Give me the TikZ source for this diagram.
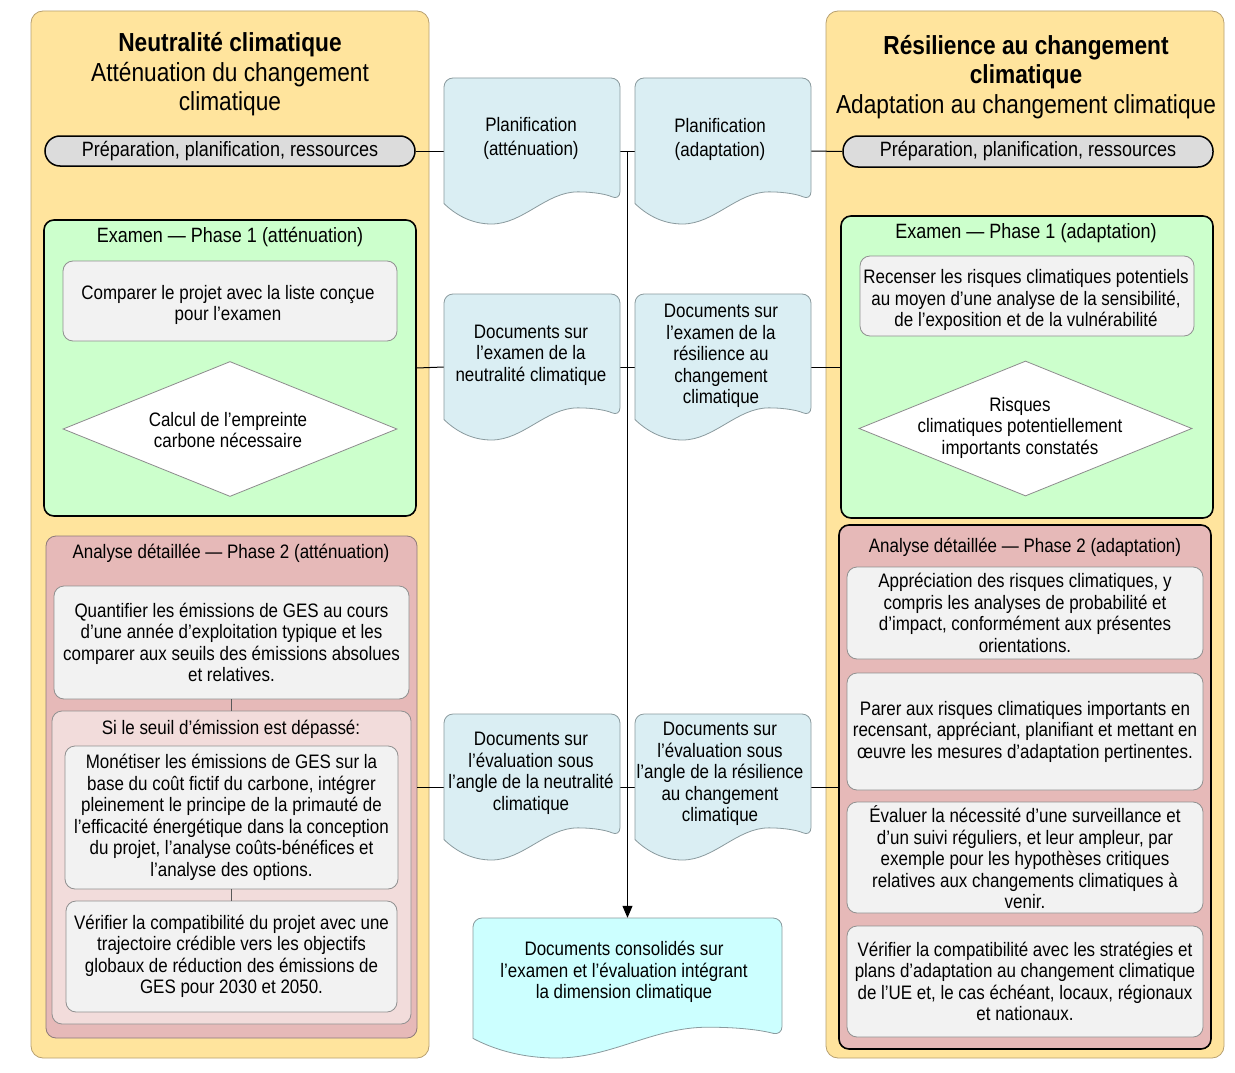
\documentclass[tikz,border=0pt]{standalone}
\usepackage{fontspec}
\setmainfont{Liberation Sans}[FakeStretch=0.87]
\usetikzlibrary{shapes.geometric,arrows.meta,calc}
\definecolor{panelfill}{HTML}{FFE49D}
\definecolor{panelborder}{HTML}{B8A070}
\definecolor{pillfill}{HTML}{DCDCDC}
\definecolor{greenfill}{HTML}{CCFFCC}
\definecolor{innerfill}{HTML}{F2F2F2}
\definecolor{innerborder}{HTML}{909090}
\definecolor{redfill}{HTML}{E6B9B8}
\definecolor{redborder}{HTML}{8E7A7A}
\definecolor{subfill}{HTML}{F2DCDB}
\definecolor{docfill}{HTML}{DAEEF3}
\definecolor{docborder}{HTML}{8A9A9E}
\definecolor{cyanfill}{HTML}{CCFFFF}
\definecolor{diamborder}{HTML}{8C8C8C}
\newcommand\myBody{\fontsize{19.5}{21.5}\selectfont}
\newcommand\myDoc{\fontsize{19.5}{24.5}\selectfont}
\newcommand\mySec{\fontsize{20.7}{23}\selectfont}
\newcommand\myTitle{\fontsize{26.1}{29.5}\selectfont}
\newcommand\docshape[5]{%
  \begin{scope}[shift={(#1pt,-#2pt)},x=#3pt,y=-#4pt]
  \draw[docline,fill=#5] (0,0.86) [rounded corners=9pt] -- (0,0) -- (1,0) -- (1,0.84) [sharp corners]
    .. controls (0.93,0.80) and (0.86,0.78) .. (0.76,0.78)
    .. controls (0.58,0.78) and (0.45,1.0) .. (0.27,1.0)
    .. controls (0.15,1.0) and (0.06,0.93) .. (0,0.86) -- cycle;
  \end{scope}}
\tikzset{
  panel/.style={draw=panelborder,fill=panelfill,rounded corners=12pt,line width=0.8pt,inner sep=0pt},
  pill/.style={draw=black,fill=pillfill,rounded corners=15pt,line width=1.5pt,inner sep=0pt,font=\mySec},
  greenbox/.style={draw=black,fill=greenfill,rounded corners=10pt,line width=1.6pt,inner sep=0pt},
  redbox/.style={fill=redfill,rounded corners=10pt,inner sep=0pt},
  subbox/.style={draw=innerborder,fill=subfill,rounded corners=10pt,line width=0.8pt,inner sep=0pt},
  innerbox/.style={draw=innerborder,fill=innerfill,rounded corners=10pt,line width=0.8pt,inner sep=0pt,align=center,font=\myBody},
  diam/.style={diamond,draw=diamborder,fill=white,line width=0.8pt,inner sep=0pt},
  docline/.style={draw=docborder,line width=0.8pt},
  docnode/.style={inner sep=0pt,draw=none},
  txt/.style={align=center,font=\myBody,inner sep=0pt},
  sectitle/.style={align=center,font=\mySec,inner sep=0pt},
  conn/.style={draw=black,line width=1pt},
  innerconn/.style={draw=black!65,line width=1pt}
}
\begin{document}
\begin{tikzpicture}[x=1pt,y=-1pt]
\useasboundingbox (0,0) rectangle (1235,1073);
\fill[white] (0,0) rectangle (1235,1073);

% big panels
\node[panel,minimum width=398pt,minimum height=1047pt] (lpanel) at (230,534.5) {};
\node[panel,minimum width=398pt,minimum height=1047pt] (rpanel) at (1025,534.5) {};

\node[align=center,font=\myTitle,inner sep=0pt] (ltitle) at (230,74.5) {\textbf{Neutralité climatique}\\Atténuation du changement\\climatique};
\node[align=center,font=\myTitle,inner sep=0pt] (rtitle) at (1026,77) {\textbf{Résilience au changement}\\\textbf{climatique}\\Adaptation au changement climatique};

% pills
\node[pill,minimum width=370pt,minimum height=30pt] (lpill) at (230,151) {Préparation, planification, ressources};
\node[pill,minimum width=370pt,minimum height=31pt] (rpill) at (1028,151.5) {Préparation, planification, ressources};

% green boxes
\node[greenbox,minimum width=372pt,minimum height=296pt] (lgreen) at (230,368) {};
\node[sectitle] (lgtitle) at (230,237) {Examen — Phase 1 (atténuation)};
\node[innerbox,minimum width=334pt,minimum height=80pt] (lg1) at (230,301) {};
\node[txt] (lg1text) at (228,305) {Comparer le projet avec la liste conçue\\pour l’examen};
\node[diam,minimum width=334pt,minimum height=135pt] (ldiam) at (230,429) {};
\node[txt] (ldtext) at (228,430) {Calcul de l’empreinte\\carbone nécessaire};

\node[greenbox,minimum width=372pt,minimum height=302pt] (rgreen) at (1027,367) {};
\node[sectitle] (rgtitle) at (1026,233) {Examen — Phase 1 (adaptation)};
\node[innerbox,minimum width=334pt,minimum height=80pt] (rg1) at (1027,296) {};
\node[txt] (rg1text) at (1026,300) {Recenser les risques climatiques potentiels\\au moyen d’une analyse de la sensibilité,\\de l’exposition et de la vulnérabilité};
\node[diam,minimum width=333pt,minimum height=135pt] (rdiam) at (1025.5,428.5) {};
\node[txt] (rdtext) at (1020,427.5) {Risques\\climatiques potentiellement\\importants constatés};

% red boxes left
\node[redbox,draw=redborder,line width=0.8pt,minimum width=371pt,minimum height=502pt] (lred) at (231.5,787) {};
\node[txt] (lrtitle) at (231,553) {Analyse détaillée — Phase 2 (atténuation)};
\node[innerbox,minimum width=355pt,minimum height=113pt] (lr1) at (231.5,642.5) {Quantifier les émissions de GES au cours\\d’une année d’exploitation typique et les\\comparer aux seuils des émissions absolues\\et relatives.};
\node[subbox,minimum width=359pt,minimum height=313pt] (lsub) at (231.5,867.5) {};
\node[txt] (lsubtitle) at (231,729) {Si le seuil d’émission est dépassé:};
\node[innerbox,minimum width=333pt,minimum height=143pt] (lr2) at (231.5,817.5) {Monétiser les émissions de GES sur la\\base du coût fictif du carbone, intégrer\\pleinement le principe de la primauté de\\l’efficacité énergétique dans la conception\\du projet, l’analyse coûts-bénéfices et\\l’analyse des options.};
\node[innerbox,minimum width=331pt,minimum height=111pt] (lr3) at (231.5,956.5) {Vérifier la compatibilité du projet avec une\\trajectoire crédible vers les objectifs\\globaux de réduction des émissions de\\GES pour 2030 et 2050.};
\draw[innerconn] (lr1.south) -- (lsub.north);
\draw[innerconn] (lr2.south) -- (lr3.north);

% red box right
\node[redbox,draw=black,line width=1.6pt,minimum width=372pt,minimum height=524pt] (rred) at (1025,787) {};
\node[txt] (rrtitle) at (1025,547) {Analyse détaillée — Phase 2 (adaptation)};
\node[innerbox,minimum width=356pt,minimum height=92pt] (ra) at (1025,613) {Appréciation des risques climatiques, y\\compris les analyses de probabilité et\\d’impact, conformément aux présentes\\orientations.};
\node[innerbox,minimum width=356pt,minimum height=117pt] (rb) at (1025,731.5) {Parer aux risques climatiques importants en\\recensant, appréciant, planifiant et mettant en\\œuvre les mesures d’adaptation pertinentes.};
\node[innerbox,minimum width=356pt,minimum height=111pt] (rc) at (1025,857.5) {Évaluer la nécessité d’une surveillance et\\d’un suivi réguliers, et leur ampleur, par\\exemple pour les hypothèses critiques\\relatives aux changements climatiques à\\venir.};
\node[innerbox,minimum width=356pt,minimum height=111pt] (rd) at (1025,981.5) {Vérifier la compatibilité avec les stratégies et\\plans d’adaptation au changement climatique\\de l’UE et, le cas échéant, locaux, régionaux\\et nationaux.};

% documents
\node[docnode,minimum width=176pt,minimum height=146pt] (d1) at (532,151) {};
\node[docnode,minimum width=176pt,minimum height=146pt] (d2) at (723,151) {};
\node[docnode,minimum width=176pt,minimum height=146pt] (d3) at (532,367) {};
\node[docnode,minimum width=176pt,minimum height=146pt] (d4) at (723,367) {};
\node[docnode,minimum width=176pt,minimum height=146pt] (d5) at (532,787) {};
\node[docnode,minimum width=176pt,minimum height=146pt] (d6) at (723,787) {};
\node[docnode,minimum width=309pt,minimum height=140pt] (d7) at (627.5,988) {};

% connectors
\draw[conn] (lpill.east) -- (d1.west);
\draw[conn] (d1.east) -- (d2.west);
\draw[conn] (d2.east) -- (rpill.west);
\draw[conn] (lgreen.east) -- (d3.west);
\draw[conn] (d3.east) -- (d4.west);
\draw[conn] (d4.east) -- (rgreen.west);
\draw[conn] (lred.east) -- (d5.west);
\draw[conn] (d5.east) -- (d6.west);
\draw[conn] (d6.east) -- (rred.west);
\coordinate (vtop) at ($(d1.east)!0.5!(d2.west)$);
\draw[conn,-{Triangle[width=10pt,length=12pt]}] (vtop) -- (vtop |- d7.north);

\docshape{444}{78}{176}{146}{docfill}
\docshape{635}{78}{176}{146}{docfill}
\docshape{444}{294}{176}{146}{docfill}
\docshape{635}{294}{176}{146}{docfill}
\docshape{444}{714}{176}{146}{docfill}
\docshape{635}{714}{176}{146}{docfill}
\docshape{473}{918}{309}{140}{cyanfill}

\node[txt,font=\myDoc] (t1) at (531,138.5) {Planification\\(atténuation)};
\node[txt,font=\myDoc] (t2) at (720,139.5) {Planification\\(adaptation)};
\node[txt] (t3) at (531,355) {Documents sur\\l’examen de la\\neutralité climatique};
\node[txt] (t4) at (721,356) {Documents sur\\l’examen de la\\résilience au\\changement\\climatique};
\node[txt] (t5) at (531,773.5) {Documents sur\\l’évaluation sous\\l’angle de la neutralité\\climatique};
\node[txt] (t6) at (720,774) {Documents sur\\l’évaluation sous\\l’angle de la résilience\\au changement\\climatique};
\node[txt] (t7) at (624,972) {Documents consolidés sur\\l’examen et l’évaluation intégrant\\la dimension climatique};
\end{tikzpicture}
\end{document}
